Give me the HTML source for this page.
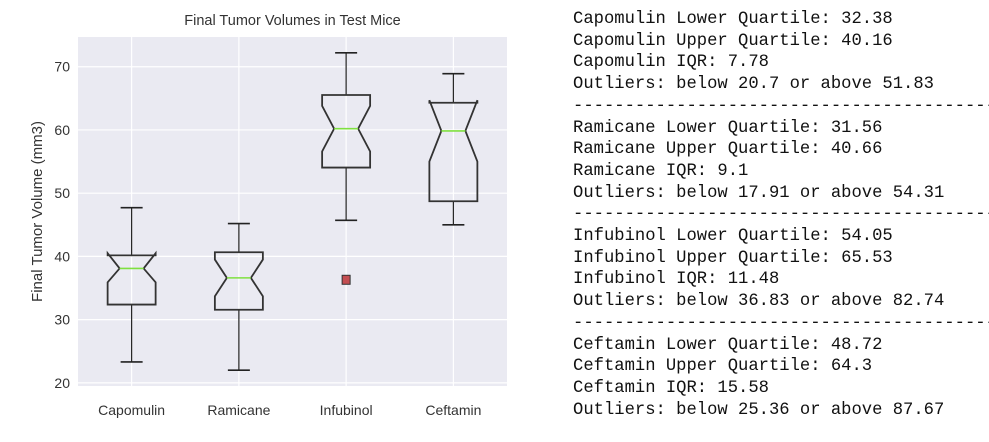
<!DOCTYPE html>
<html><head><meta charset="utf-8"><style>
body{margin:0;width:989px;height:442px;background:#fff;overflow:hidden;position:relative}
#out{position:absolute;left:573px;top:9px;font-family:"Liberation Mono",monospace;font-size:17.2px;line-height:21.7px;color:#111;white-space:pre;margin:0}
</style></head><body>
<svg id="chart" width="560" height="442" style="position:absolute;left:0;top:0" font-family="Liberation Sans, sans-serif"></svg>
<pre id="out">Capomulin Lower Quartile: 32.38
Capomulin Upper Quartile: 40.16
Capomulin IQR: 7.78
Outliers: below 20.7 or above 51.83
-----------------------------------------
Ramicane Lower Quartile: 31.56
Ramicane Upper Quartile: 40.66
Ramicane IQR: 9.1
Outliers: below 17.91 or above 54.31
-----------------------------------------
Infubinol Lower Quartile: 54.05
Infubinol Upper Quartile: 65.53
Infubinol IQR: 11.48
Outliers: below 36.83 or above 82.74
-----------------------------------------
Ceftamin Lower Quartile: 48.72
Ceftamin Upper Quartile: 64.3
Ceftamin IQR: 15.58
Outliers: below 25.36 or above 87.67</pre>
<script>
const categories=["Capomulin","Ramicane","Infubinol","Ceftamin"];
const q1=[32.38,31.56,54.05,48.72];
const q3=[40.16,40.66,65.53,64.3];
const medians=[38.1,36.6,60.2,59.85];
const whiskLo=[23.3,22.0,45.7,45.0];
const whiskHi=[47.7,45.2,72.2,68.9];
const notchLo=[35.9,33.7,56.6,55.0];
const notchHi=[40.5,39.5,63.8,64.7];
const outliers=[[],[],[36.3],[]];
const yTicks=[20,30,40,50,60,70];
const NS="http://www.w3.org/2000/svg";
const svg=document.getElementById('chart');
const L=78,R=507,T=37,B=386;
const yMin=19.5,yMax=74.7;
function y(v){return B-(v-yMin)/(yMax-yMin)*(B-T);}
function x(i){return L+(i+0.5)*(R-L)/categories.length;}
function mk(tag,attrs,name){const e=document.createElementNS(NS,tag);for(const k in attrs)e.setAttribute(k,attrs[k]);


svg.appendChild(e);return e;}
mk('rect',{x:L,y:T,width:R-L,height:B-T,fill:'#eaeaf2'},'plot-area');
yTicks.forEach(t=>{mk('line',{x1:L,x2:R,y1:y(t),y2:y(t),stroke:'#fff','stroke-width':1.2},'y-gridline');
const tx=mk('text',{x:L-8,y:y(t)+5,'text-anchor':'end','font-size':14,fill:'#333'},'y-tick-label');tx.textContent=t;});
categories.forEach((c,i)=>{mk('line',{x1:x(i),x2:x(i),y1:T,y2:B,stroke:'#fff','stroke-width':1.2},'x-gridline');
const tx=mk('text',{x:x(i),y:415,'text-anchor':'middle','font-size':14,fill:'#333'},'x-tick-label');tx.textContent=c;});
const hw=24,nw=12,cw=11;
categories.forEach((c,i)=>{const cx=x(i);
mk('line',{x1:cx,x2:cx,y1:y(q1[i]),y2:y(whiskLo[i]),stroke:'#222','stroke-width':1.2},'whisker-low');
mk('line',{x1:cx,x2:cx,y1:y(q3[i]),y2:y(whiskHi[i]),stroke:'#222','stroke-width':1.2},'whisker-high');
mk('line',{x1:cx-cw,x2:cx+cw,y1:y(whiskLo[i]),y2:y(whiskLo[i]),stroke:'#222','stroke-width':1.6},'cap-low');
mk('line',{x1:cx-cw,x2:cx+cw,y1:y(whiskHi[i]),y2:y(whiskHi[i]),stroke:'#222','stroke-width':1.6},'cap-high');
const pts=[[cx-hw,y(q1[i])],[cx+hw,y(q1[i])],[cx+hw,y(notchLo[i])],[cx+nw,y(medians[i])],[cx+hw,y(notchHi[i])],[cx+hw,y(q3[i])],[cx-hw,y(q3[i])],[cx-hw,y(notchHi[i])],[cx-nw,y(medians[i])],[cx-hw,y(notchLo[i])]];
mk('polygon',{points:pts.map(p=>p.join(',')).join(' '),fill:'none',stroke:'#333','stroke-width':1.8},'box-'+c.toLowerCase());
mk('line',{x1:cx-nw,x2:cx+nw,y1:y(medians[i]),y2:y(medians[i]),stroke:'#7fe040','stroke-width':1.6},'median-line');
outliers[i].forEach(o=>mk('rect',{x:cx-4,y:y(o)-4.5,width:8,height:9,fill:'#c44e52',stroke:'#333','stroke-width':1},'outlier-point'));
});
const tt=mk('text',{x:(L+R)/2,y:25,'text-anchor':'middle','font-size':14.5,fill:'#333'},'chart-title');tt.textContent='Final Tumor Volumes in Test Mice';
const yl=mk('text',{x:42,y:(T+B)/2,'text-anchor':'middle','font-size':15,fill:'#333',transform:'rotate(-90 42 '+((T+B)/2)+')'},'y-axis-title');yl.textContent='Final Tumor Volume (mm3)';
</script>
</body></html>
